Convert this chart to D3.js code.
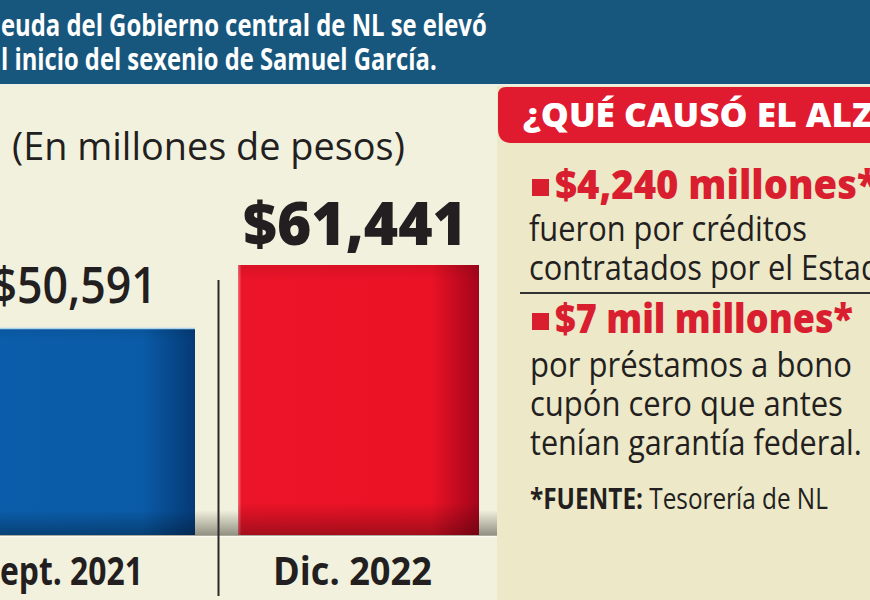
<!DOCTYPE html>
<html>
<head>
<meta charset="utf-8">
<script src="https://cdn.jsdelivr.net/npm/d3@7"></script>
<style>
  html, body { margin: 0; padding: 0; background: #f2f1de; }
  svg { display: block; font-family: "Open Sans", "Noto Sans", sans-serif; }
</style>
</head>
<body>
<svg id="chart" width="870" height="600"></svg>
<script>
// ---------- data ----------
const categories = ["Sept. 2021", "Dic. 2022"];
const debt = [50591, 61441];
const valueLabels = ["$50,591", "$61,441"];
const titleLines = ["La deuda del Gobierno central de NL se elevó", "al inicio del sexenio de Samuel García."];
const unitLabel = "(En millones de pesos)";
const causesTitle = "¿QUÉ CAUSÓ EL ALZA?";
const causeAmounts = ["$4,240 millones*", "$7 mil millones*"];
const causeTexts = [
  ["fueron por créditos", "contratados por el Estado."],
  ["por préstamos a bono", "cupón cero que antes", "tenían garantía federal."]
];
const sourceParts = ["*FUENTE:", " Tesorería de NL"];

// ---------- setup ----------
const W = 870, H = 600;
const svg = d3.select("#chart");
const defs = svg.append("defs");

// fit a text horizontally: chars [from,to) span x0..x1
function fit(sel, x0, x1, y, from = 0, to = null) {
  const node = sel.node();
  const n = node.getNumberOfChars();
  const end = to == null ? n : to;
  const sub = node.getSubStringLength(from, end - from);
  const pre = from > 0 ? node.getSubStringLength(0, from) : 0;
  const s = (x1 - x0) / sub;
  sel.attr("x", 0).attr("y", 0)
     .attr("transform", `translate(${x0 - s * pre},${y}) scale(${s},1)`);
  return s;
}

// gradients
function grad(id, x2, y2, stops) {
  const g = defs.append("linearGradient").attr("id", id)
    .attr("x1", 0).attr("y1", 0).attr("x2", x2).attr("y2", y2);
  stops.forEach(([o, c, a]) => g.append("stop").attr("offset", o)
    .attr("stop-color", c).attr("stop-opacity", a == null ? 1 : a));
}
grad("blueH", 1, 0, [["0%", "#0b5eab"], ["78%", "#0a5ba7"], ["100%", "#053a76"]]);
grad("redH", 1, 0, [["0%", "#f2707c"], ["1.5%", "#ec1428"], ["80%", "#eb1226"], ["100%", "#a3051b"]]);
grad("shadeV", 0, 1, [["0%", "#000", 0.08], ["6%", "#000", 0], ["88%", "#000", 0], ["100%", "#000", 0.3]]);
grad("shelf", 0, 1, [["0%", "#3c3c32", 0], ["100%", "#3c3c32", 0.55]]);

// ---------- backgrounds ----------
svg.append("rect").attr("width", W).attr("height", H).attr("fill", "#f2f1de");
svg.append("rect").attr("x", 497).attr("y", 86).attr("width", W - 497).attr("height", H - 86).attr("fill", "#ece8c8");
svg.append("rect").attr("x", 0).attr("y", 0).attr("width", W).attr("height", 84).attr("fill", "#18577d");
svg.append("rect").attr("x", 0).attr("y", 84).attr("width", W).attr("height", 2).attr("fill", "#eef0e4");

// title
titleLines.forEach((t, i) => {
  const el = svg.append("text").text(t)
    .attr("fill", "#ffffff").attr("font-size", 30).attr("font-weight", 700);
  if (i === 0) fit(el, 1, 487, 36, 4);
  else fit(el, 1, 437, 70, 1);
});

// ---------- chart ----------
const x = d3.scaleBand().domain(categories).range([-67.5, 500.5])
  .paddingInner(0.1514).paddingOuter(0.0757);
const y = d3.scaleLinear().domain([14940, 61441]).range([535, 265]);
const bw = x.bandwidth();

// unit label
fit(svg.append("text").text(unitLabel).attr("fill", "#231f20")
  .attr("font-size", 38).attr("font-weight", 400), 12, 405, 160);

// shelf shadow behind bars
svg.append("rect").attr("x", 0).attr("y", 510).attr("width", 497).attr("height", 26).attr("fill", "url(#shelf)");
svg.append("line").attr("x1", 0).attr("x2", 497).attr("y1", 536.5).attr("y2", 536.5)
  .attr("stroke", "#fbfbf2").attr("stroke-width", 1.5);

const barFills = ["url(#blueH)", "url(#redH)"];
const bars = svg.append("g");
categories.forEach((c, i) => {
  bars.append("rect").attr("x", x(c)).attr("y", y(debt[i]))
    .attr("width", bw).attr("height", y.range()[0] - y(debt[i]))
    .attr("fill", barFills[i]);
  bars.append("rect").attr("x", x(c)).attr("y", y(debt[i]))
    .attr("width", bw).attr("height", y.range()[0] - y(debt[i]))
    .attr("fill", "url(#shadeV)");
});
// light top edge of blue bar
bars.append("line").attr("x1", x(categories[0])).attr("x2", x(categories[0]) + bw)
  .attr("y1", y(debt[0]) + 0.5).attr("y2", y(debt[0]) + 0.5)
  .attr("stroke", "#a8d3ea").attr("stroke-width", 1.5);

// separator
const sepX = x(categories[1]) - x.step() * x.paddingInner() / 2 + 2;
svg.append("line").attr("x1", sepX).attr("x2", sepX).attr("y1", 280).attr("y2", 596)
  .attr("stroke", "#2a2a2a").attr("stroke-width", 2);

// value labels
const valueStyle = [{ size: 50, weight: 600, gap: 25 }, { size: 61, weight: 800, gap: 20 }];
categories.forEach((c, i) => {
  const st = valueStyle[i];
  const el = svg.append("text").text(valueLabels[i]).attr("fill", "#231f20")
    .attr("font-size", st.size).attr("font-weight", st.weight);
  if (i === 0) fit(el, x(c) + 63, x(c) + 203, y(debt[i]) - st.gap, 1);
  else fit(el, x(c) + 5, x(c) + 229, y(debt[i]) - st.gap);
});

// category labels
categories.forEach((c, i) => {
  const el = svg.append("text").text(c).attr("fill", "#231f20")
    .attr("font-size", 39).attr("font-weight", 700);
  if (i === 0) fit(el, x(c) + 46, x(c) + 189, 585, 1);
  else fit(el, x(c) + 35, x(c) + 194, 585);
});

// ---------- right panel ----------
svg.append("path").attr("d", "M498,95Q498,87 506,87H870V143H512Q498,143 498,129Z").attr("fill", "#e01a2f");
fit(svg.append("text").text(causesTitle).attr("fill", "#ffffff")
  .attr("font-size", 34).attr("font-weight", 800), 523, 852, 127, 0, 16);

const amountY = [199, 333];
const amountFit = [[555, 857, 15], [555, 853, null]];
causeAmounts.forEach((a, i) => {
  svg.append("rect").attr("x", 532).attr("y", amountY[i] - 20).attr("width", 17).attr("height", 17)
    .attr("fill", "#d81e2f");
  const el = svg.append("text").text(a).attr("fill", "#d81e2f")
    .attr("font-size", 40).attr("font-weight", 800);
  fit(el, amountFit[i][0], amountFit[i][1], amountY[i], 0, amountFit[i][2]);
});

const bodyY = [[241, 280], [377, 416, 455]];
const bodyFit = [[[529, 807, null], [529, 861, 23]], [[530, 852, null], [530, 843, null], [530, 862, null]]];
causeTexts.forEach((lines, i) => {
  lines.forEach((t, j) => {
    const el = svg.append("text").text(t).attr("fill", "#231f20")
      .attr("font-size", 34).attr("font-weight", 400);
    fit(el, bodyFit[i][j][0], bodyFit[i][j][1], bodyY[i][j], 0, bodyFit[i][j][2]);
  });
});

svg.append("line").attr("x1", 520).attr("x2", 870).attr("y1", 293).attr("y2", 293)
  .attr("stroke", "#333").attr("stroke-width", 2);

const src = svg.append("text").attr("fill", "#231f20").attr("font-size", 29);
src.append("tspan").attr("font-weight", 700).text(sourceParts[0]);
src.append("tspan").attr("font-weight", 400).text(sourceParts[1]);
fit(src, 530, 828, 509);
</script>
</body>
</html>
